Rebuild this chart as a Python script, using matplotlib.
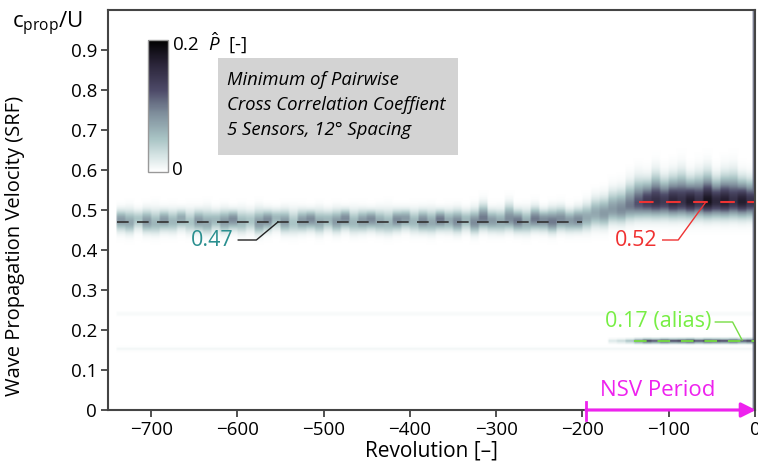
import numpy as np
import matplotlib
matplotlib.use("Agg")
import matplotlib.pyplot as plt
from matplotlib.colors import LinearSegmentedColormap
from matplotlib.patches import Rectangle

plt.rcParams['font.family'] = ['Open Sans', 'DejaVu Sans']
plt.rcParams['mathtext.fontset'] = 'custom'
plt.rcParams['mathtext.rm'] = 'Open Sans'
plt.rcParams['mathtext.it'] = 'Open Sans:italic'

# ---------------- data ----------------
rev_edges = [-750, 0]
# main wave band: peak value (P-hat) per 10-rev block, 75 blocks
band_peak = [0.00, 0.08, 0.07, 0.05, 0.08, 0.06, 0.08, 0.06, 0.07, 0.05,
             0.08, 0.07, 0.06, 0.08, 0.09, 0.06, 0.05, 0.08, 0.09, 0.06,
             0.08, 0.05, 0.08, 0.09, 0.07, 0.06, 0.08, 0.09, 0.06, 0.08,
             0.09, 0.07, 0.06, 0.09, 0.08, 0.06, 0.09, 0.07, 0.10, 0.07,
             0.09, 0.06, 0.09, 0.10, 0.08, 0.07, 0.09, 0.10, 0.07, 0.10,
             0.09, 0.10, 0.09, 0.08, 0.09, 0.07, 0.07, 0.08, 0.08, 0.09,
             0.10, 0.12, 0.14, 0.15, 0.14, 0.16, 0.15, 0.17, 0.15, 0.18,
             0.16, 0.17, 0.15, 0.17, 0.15]
band_center = [0.472, 0.474, 0.468, 0.476, 0.470, 0.466, 0.474, 0.470, 0.478, 0.468,
               0.472, 0.466, 0.474, 0.470, 0.476, 0.468, 0.472, 0.466, 0.474, 0.478,
               0.470, 0.466, 0.472, 0.476, 0.468, 0.474, 0.470, 0.478, 0.468, 0.472,
               0.476, 0.470, 0.466, 0.474, 0.478, 0.470, 0.472, 0.468, 0.476, 0.472,
               0.470, 0.474, 0.468, 0.478, 0.472, 0.470, 0.476, 0.472, 0.468, 0.476,
               0.474, 0.470, 0.476, 0.472, 0.474,
               0.48, 0.49, 0.49, 0.50, 0.50, 0.51, 0.515, 0.52,
               0.52, 0.52, 0.52, 0.52, 0.52, 0.52, 0.52, 0.52,
               0.52, 0.52, 0.52, 0.52]
band_width_low = [0.024] * 55 + [0.028, 0.030, 0.030, 0.030, 0.030, 0.032, 0.032,
                                 0.034, 0.034, 0.034, 0.034, 0.034, 0.034, 0.034,
                                 0.034, 0.034, 0.034, 0.034, 0.034, 0.034]
band_width_high = [0.024, 0.022, 0.028, 0.020, 0.026, 0.030, 0.022, 0.026, 0.020, 0.028,
                   0.024, 0.030, 0.022, 0.026, 0.020, 0.028, 0.024, 0.030, 0.022, 0.020,
                   0.026, 0.030, 0.024, 0.020, 0.028, 0.022, 0.026, 0.020, 0.028, 0.024,
                   0.020, 0.026, 0.030, 0.022, 0.020, 0.026, 0.024, 0.028, 0.020, 0.024,
                   0.026, 0.022, 0.028, 0.030, 0.024, 0.026, 0.032, 0.024, 0.028, 0.026,
                   0.022, 0.028, 0.026, 0.024, 0.026,
                   0.030, 0.034, 0.036, 0.040, 0.042, 0.046, 0.050,
                   0.044, 0.054, 0.046, 0.050, 0.056, 0.046, 0.052,
                   0.056, 0.046, 0.052, 0.056, 0.046, 0.044]
# alias line at 0.17 (blocks -170 .. 0)
alias_level = 0.172
alias_peak = [0.0] * 58 + [0.02, 0.03, 0.05, 0.10, 0.14, 0.12, 0.15, 0.13, 0.14,
                           0.16, 0.12, 0.15, 0.14, 0.13, 0.15, 0.12, 0.14]
# faint secondary traces
faint_level = [0.24, 0.152]
faint_peak = [0.006, 0.008]
edge_value = 0.11   # dark column at revolution 0

# reference lines
ref_black = (-740, -200, 0.47)
ref_red = (-135, 0, 0.52)
ref_green = (-140, 0, 0.172)
nsv_start = -196

# --------------- build image ---------------
rep = 4
ny = 200
y_centers = (np.arange(ny) + 0.5) / ny
peak_c = np.repeat(band_peak, rep)
cen_c = np.repeat(band_center, rep)
wl_c = np.repeat(band_width_low, rep)
wh_c = np.repeat(band_width_high, rep)
al_c = np.repeat(alias_peak, rep)
Y = y_centers[:, None]
W = np.where(Y < cen_c[None, :], wl_c[None, :], wh_c[None, :])
Z = peak_c[None, :] * np.exp(-((Y - cen_c[None, :]) / W) ** 2)
Z += al_c[None, :] * np.exp(-((Y - alias_level) / 0.005) ** 2)
for lvl, pk in zip(faint_level, faint_peak):
    Z += pk * np.exp(-((Y - lvl) / 0.004) ** 2) * (peak_c[None, :] > 0)
Z[:, -1] = np.maximum(Z[:, -1], edge_value)

cmap = LinearSegmentedColormap.from_list(
    'phat', [(0.0, '#ffffff'), (0.1, '#dde9e9'), (0.25, '#a9c4c5'),
             (0.45, '#7d8c9a'), (0.62, '#4d4a68'), (0.82, '#2a2438'),
             (1.0, '#000000')])

# --------------- figure ---------------
fig = plt.figure(figsize=(7.58, 4.65), dpi=100)
ax = fig.add_axes([108 / 758, 55 / 465, 647 / 758, 400 / 465])
im = ax.imshow(Z, origin='lower', aspect='auto', cmap=cmap, vmin=0, vmax=0.2,
               extent=[rev_edges[0], rev_edges[1], 0, 1], interpolation='bilinear')
ax.set_xlim(-750, 0)
ax.set_ylim(0, 1)
ax.set_xticks(np.arange(-700, 1, 100))
ax.set_xticklabels([('\u2212%d' % -v) if v < 0 else '0' for v in range(-700, 1, 100)])
ax.set_yticks(np.arange(0, 0.95, 0.1))
ax.set_yticklabels(['0'] + ['0.%d' % i for i in range(1, 10)])
ax.tick_params(labelsize=13.5, length=5, width=1.2, color='#333333', pad=3)
for s in ax.spines.values():
    s.set_color('#444444')
    s.set_linewidth(1.5)

ax.set_xlabel('Revolution [\u2013]', fontsize=15, labelpad=1)
ax.set_ylabel('Wave Propagation Velocity (SRF)', fontsize=14.5)
ax.yaxis.set_label_coords(-0.128, 0.41)
fig.text(12 / 758, 1 - 24 / 465, r'c$_{\mathrm{prop}}$/U', fontsize=16, va='center')

# reference dashed lines
ax.plot(ref_black[:2], [ref_black[2]] * 2, color='#333333', lw=1.2, dashes=(7, 5))
ax.plot(ref_red[:2], [ref_red[2]] * 2, color='#ee3333', lw=1.5, dashes=(7, 6))
ax.plot(ref_green[:2], [ref_green[2]] * 2, color='#77dd44', lw=1.3, dashes=(7, 6))

# annotations
ax.plot([-599, -578, -553], [0.425, 0.425, 0.47], color='#222222', lw=1.0)
ax.text(-604, 0.425, '0.47', color='#2a8f8f', fontsize=15.5, ha='right', va='center')
ax.plot([-107, -89, -58], [0.425, 0.425, 0.517], color='#ee3333', lw=1.0)
ax.text(-113, 0.425, '0.52', color='#f03030', fontsize=15.5, ha='right', va='center')
ax.plot([-46, -26, -15], [0.22, 0.22, 0.175], color='#77dd44', lw=1.0)
ax.text(-50, 0.22, '0.17 (alias)', color='#77ee44', fontsize=15.5, ha='right', va='center')

# NSV period arrow
ax.annotate('', xy=(1, 0), xytext=(nsv_start, 0),
            arrowprops=dict(arrowstyle='-|>', color='#ee22ee', lw=2.2,
                            mutation_scale=22, shrinkA=0, shrinkB=0),
            annotation_clip=False)
ax.plot([nsv_start, nsv_start], [-0.025, 0.02], color='#ee22ee', lw=2.0, clip_on=False)
ax.text(-113, 0.048, 'NSV Period', color='#ee22ee', fontsize=16, ha='center', va='center')

# colorbar inset
cax = fig.add_axes([148 / 758, (465 - 172) / 465, 20 / 758, 132 / 465])
cb = fig.colorbar(im, cax=cax)
cb.set_ticks([])
cb.outline.set_edgecolor('#999999')
cb.outline.set_linewidth(1.0)
fig.text(172 / 758, 1 - 43 / 465, r'0.2  $\hat{P}$  [-]', fontsize=13.5, va='center')
fig.text(172 / 758, 1 - 170 / 465, '0', fontsize=13.5, va='center')

# text box
fig.add_artist(Rectangle((218 / 758, (465 - 155) / 465), 240 / 758, 97 / 465,
                         transform=fig.transFigure, facecolor='#d3d3d3',
                         edgecolor='none'))
for i, line in enumerate(['Minimum of Pairwise', 'Cross Correlation Coeffient',
                          '5 Sensors, 12\u00b0 Spacing']):
    fig.text(227 / 758, 1 - (80 + 25 * i) / 465, line, fontsize=13.3, style='italic',
             va='center')

fig.savefig('out.png', dpi=100)
